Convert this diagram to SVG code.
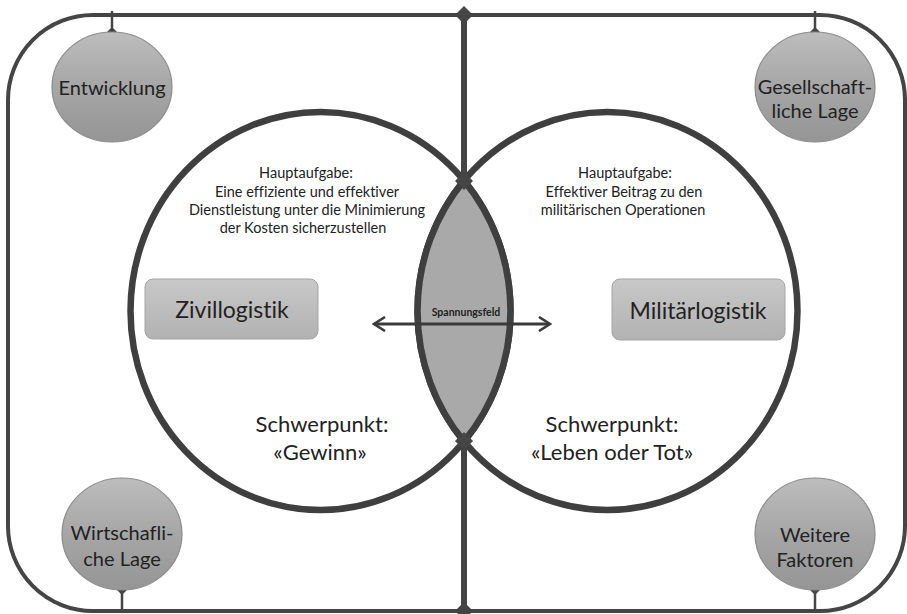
<svg xmlns="http://www.w3.org/2000/svg" width="907" height="614" viewBox="0 0 907 614">
  <defs>
    <linearGradient id="nodeGrad" x1="0" y1="0" x2="0" y2="1">
      <stop offset="0" stop-color="#bdbdbd"/>
      <stop offset="0.5" stop-color="#a6a6a6"/>
      <stop offset="1" stop-color="#959595"/>
    </linearGradient>
    <linearGradient id="boxGrad" x1="0" y1="0" x2="0" y2="1">
      <stop offset="0" stop-color="#c8c8c8"/>
      <stop offset="1" stop-color="#b2b2b2"/>
    </linearGradient>
    <marker id="chev" viewBox="0 0 14 16" refX="12" refY="8" markerWidth="14" markerHeight="16" markerUnits="userSpaceOnUse" orient="auto-start-reverse">
      <path d="M1,1 L12,8 L1,15" fill="none" stroke="#3a3a3a" stroke-width="2.6" stroke-linejoin="miter"/>
    </marker>
  </defs>
  <style>
    .frame { fill: none; stroke: #454545; stroke-width: 4; }
    .ring { fill: none; stroke: #3f3f3f; stroke-width: 6.5; }
    .axis { fill: none; stroke: #454545; stroke-width: 6; }
    .dia { fill: #454545; }
    .tick { stroke: #454545; stroke-width: 2.5; fill: none; }
    .node { fill: url(#nodeGrad); stroke: #8c8c8c; stroke-width: 1.2; }
    .box { fill: url(#boxGrad); stroke: #a5a5a5; stroke-width: 1; }
    text { font-family: "Lato", "Open Sans", "Liberation Sans", sans-serif; fill: #222; text-anchor: middle; font-variant-ligatures: none; font-feature-settings: "liga" 0, "clig" 0; }
    .nl { font-size: 20px; }
    .small { font-size: 14.5px; }
    .big { font-size: 22px; }
    .title { font-size: 23px; }
    .sf { font-size: 10.5px; font-weight: bold; }
  </style>

  <g id="frame">
    <rect class="frame" x="8" y="15" width="897" height="596" rx="85" ry="85"/>
  </g>

  <g id="connectors">
    <line class="axis" x1="464" y1="15" x2="464" y2="181"/>
    <line class="axis" x1="464" y1="441" x2="464" y2="611"/>
    <line class="tick" x1="112" y1="11" x2="112" y2="32"/>
    <line class="tick" x1="815" y1="11" x2="815" y2="32"/>
    <line class="tick" x1="122" y1="590" x2="122" y2="611"/>
    <line class="tick" x1="815" y1="590" x2="815" y2="611"/>
    <path class="dia" d="M112,27 L117,32 L112,37 L107,32 Z"/>
    <path class="dia" d="M815,27 L820,32 L815,37 L810,32 Z"/>
    <path class="dia" d="M122,585 L127,590 L122,595 L117,590 Z"/>
    <path class="dia" d="M815,585 L820,590 L815,595 L810,590 Z"/>
  </g>

  <g id="zivil-circle">
    <ellipse class="ring" cx="320.5" cy="311" rx="190" ry="199"/>
  </g>
  <g id="militaer-circle">
    <ellipse class="ring" cx="607.5" cy="311" rx="190" ry="199"/>
  </g>

  <g id="spannungsfeld">
    <path d="M464,180.6 A190,199 0 0,1 464,441.4 A190,199 0 0,1 464,180.6 Z" fill="#a9a9a9" stroke="#3f3f3f" stroke-width="6.5"/>
    <line x1="374" y1="324" x2="550" y2="324" stroke="#3a3a3a" stroke-width="3" marker-start="url(#chev)" marker-end="url(#chev)"/>
    <text class="sf" x="466" y="316">Spannungsfeld</text>
  </g>

  <g id="junctions">
    <path class="dia" d="M464,6 L473,15 L464,24 L455,15 Z"/>
    <path class="dia" d="M464,172 L473,181 L464,190 L455,181 Z"/>
    <path class="dia" d="M464,432 L473,441 L464,450 L455,441 Z"/>
    <path class="dia" d="M464,602 L473,611 L464,620 L455,611 Z"/>
  </g>

  <g id="entwicklung">
    <ellipse class="node" cx="112" cy="87" rx="60" ry="55"/>
    <text class="nl" x="112" y="95">Entwicklung</text>
  </g>
  <g id="gesellschaftliche-lage">
    <ellipse class="node" cx="815" cy="87" rx="60" ry="55"/>
    <text class="nl" x="815" y="94">Gesellschaft-</text>
    <text class="nl" x="815" y="118">liche Lage</text>
  </g>
  <g id="wirtschaftliche-lage">
    <ellipse class="node" cx="122" cy="534" rx="60" ry="56"/>
    <text class="nl" x="122" y="540">Wirtschafli-</text>
    <text class="nl" x="122" y="566">che Lage</text>
  </g>
  <g id="weitere-faktoren">
    <ellipse class="node" cx="815" cy="534" rx="60" ry="56"/>
    <text class="nl" x="815" y="542">Weitere</text>
    <text class="nl" x="815" y="567">Faktoren</text>
  </g>

  <g id="zivillogistik">
    <rect class="box" x="145" y="279" width="173" height="60" rx="8"/>
    <text class="title" x="232" y="318">Zivillogistik</text>
  </g>
  <g id="militaerlogistik">
    <rect class="box" x="612" y="279" width="173" height="61" rx="8"/>
    <text class="title" x="698" y="319">Militärlogistik</text>
  </g>

  <g id="zivil-texts">
    <text class="small" x="306" y="178">Hauptaufgabe:</text>
    <text class="small" x="307" y="197">Eine effiziente und effektiver</text>
    <text class="small" x="307" y="215">Dienstleistung unter die Minimierung</text>
    <text class="small" x="303" y="233">der Kosten sicherzustellen</text>
    <text class="big" x="322" y="432">Schwerpunkt:</text>
    <text class="big" x="320" y="460">«Gewinn»</text>
  </g>
  <g id="militaer-texts">
    <text class="small" x="625" y="178">Hauptaufgabe:</text>
    <text class="small" x="624" y="197">Effektiver Beitrag zu den</text>
    <text class="small" x="623" y="215">militärischen Operationen</text>
    <text class="big" x="612" y="432">Schwerpunkt:</text>
    <text class="big" x="612" y="460">«Leben oder Tot»</text>
  </g>
</svg>
